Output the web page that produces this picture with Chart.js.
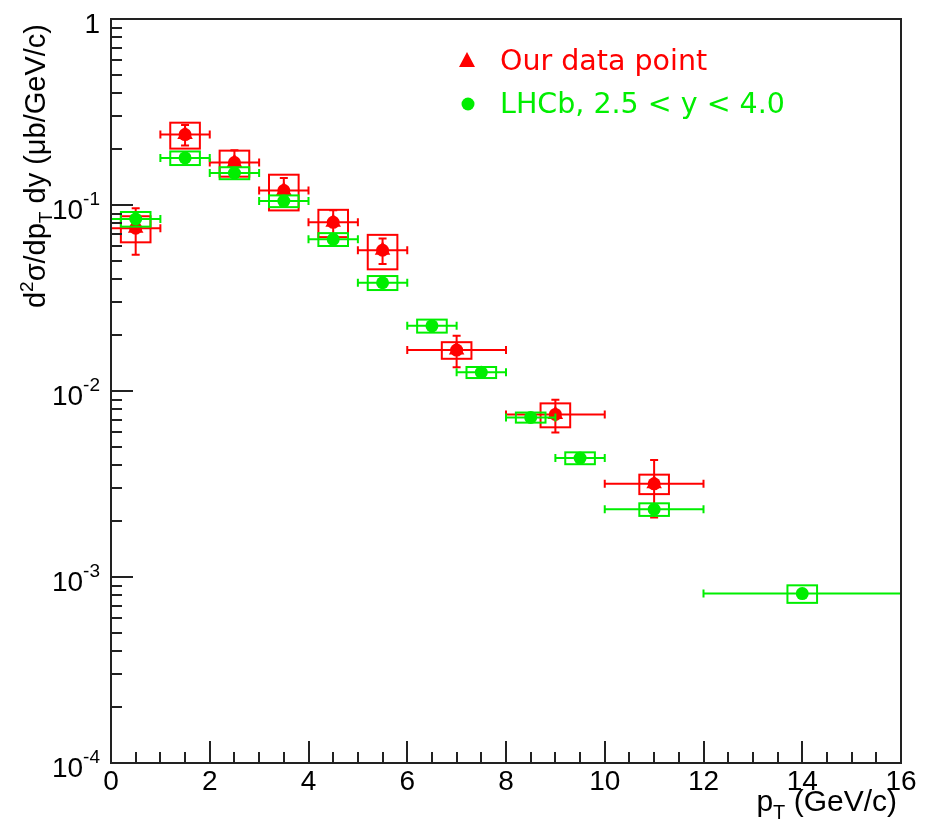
<!DOCTYPE html>
<html>
<head>
<meta charset="utf-8">
<script src="https://cdn.jsdelivr.net/npm/chart.js@4.4.1/dist/chart.umd.min.js"></script>
<style>
  html, body { margin: 0; padding: 0; background: #fff; }
  #wrap { width: 933px; height: 831px; }
</style>
</head>
<body>
<div id="wrap"><canvas id="xsec" width="933" height="831"></canvas></div>
<script>
// our measurement
const ourPt   = [0.5, 1.5, 2.5, 3.5, 4.5, 5.5, 7, 9, 11];
const ourXErr = [0.5, 0.5, 0.5, 0.5, 0.5, 0.5, 1, 1, 1];
const ourVal  = [0.0750, 0.239, 0.169, 0.1195, 0.0807, 0.0571, 0.0166, 0.00748, 0.00317];
const ourStat = [0.021, 0.030, 0.028, 0.020, 0.013, 0.009, 0.0032, 0.0015, 0.00108];
const ourSys  = [0.012, 0.038, 0.027, 0.026, 0.0135, 0.012, 0.0017, 0.0011, 0.00038];

// LHCb, 2.5 < y < 4.0
const lhcbPt   = [0.5, 1.5, 2.5, 3.5, 4.5, 5.5, 6.5, 7.5, 8.5, 9.5, 11, 14];
const lhcbXErr = [0.5, 0.5, 0.5, 0.5, 0.5, 0.5, 0.5, 0.5, 0.5, 0.5, 1, 2];
const lhcbVal  = [0.0841, 0.179, 0.1486, 0.105, 0.0654, 0.0382, 0.0224, 0.0126, 0.00721, 0.00436, 0.00231, 0.000814];
const lhcbStat = [0.003, 0.005, 0.004, 0.003, 0.002, 0.0012, 0.0007, 0.0004, 0.0002, 0.00012, 0.00008, 0.00003];
const lhcbSys  = [0.0076, 0.015, 0.011, 0.0076, 0.0052, 0.0033, 0.0018, 0.00086, 0.00045, 0.00032, 0.00018, 0.000088];

const boxHalfWidth = 0.3;
const xTicks = [0, 2, 4, 6, 8, 10, 12, 14, 16];
const xMinorStep = 0.5;
const yDecades = [0, -1, -2, -3, -4];

const RED = '#ff0000';
const GREEN = '#00ee00';
const AXIS = '#222222';
const LABEL_FONT = '"Liberation Sans", Arial, sans-serif';
const LEGEND_FONT = '"DejaVu Sans", Verdana, sans-serif';

function toPoints(xs, ys) {
  return xs.map((x, i) => ({ x, y: ys[i] }));
}

// draw a string made of parts (plain / sub / sup) along the baseline
function richWidth(ctx, parts) {
  let w = 0;
  parts.forEach(p => {
    ctx.font = p.size + 'px ' + LABEL_FONT;
    w += ctx.measureText(p.text).width;
  });
  return w;
}
function drawRich(ctx, parts, x, y) {
  parts.forEach(p => {
    ctx.font = p.size + 'px ' + LABEL_FONT;
    ctx.fillText(p.text, x, y + (p.dy || 0));
    x += ctx.measureText(p.text).width;
  });
}

const errorBars = {
  id: 'errorBars',
  beforeDatasetDraw(chart, args) {
    const ds = chart.data.datasets[args.index];
    if (!ds.errs) return;
    const { ctx } = chart;
    const x = chart.scales.x, y = chart.scales.y;
    const e = ds.errs;
    ctx.save();
    ctx.strokeStyle = ds.borderColor;
    ctx.lineWidth = 2;
    ds.data.forEach((p, i) => {
      const px = x.getPixelForValue(p.x);
      const py = y.getPixelForValue(p.y);
      // systematic box
      const bx0 = x.getPixelForValue(p.x - boxHalfWidth);
      const bx1 = x.getPixelForValue(p.x + boxHalfWidth);
      const by0 = y.getPixelForValue(p.y + e.sys[i]);
      const by1 = y.getPixelForValue(p.y - e.sys[i]);
      ctx.strokeRect(bx0, by0, bx1 - bx0, by1 - by0);
      // bin width and statistical error
      const ex0 = x.getPixelForValue(p.x - e.xerr[i]);
      const ex1 = x.getPixelForValue(p.x + e.xerr[i]);
      const ey0 = y.getPixelForValue(p.y + e.stat[i]);
      const ey1 = y.getPixelForValue(p.y - e.stat[i]);
      ctx.beginPath();
      ctx.moveTo(ex0, py); ctx.lineTo(ex1, py);
      ctx.moveTo(ex0, py - 4); ctx.lineTo(ex0, py + 4);
      ctx.moveTo(ex1, py - 4); ctx.lineTo(ex1, py + 4);
      ctx.moveTo(px, ey0); ctx.lineTo(px, ey1);
      ctx.moveTo(px - 4, ey0); ctx.lineTo(px + 4, ey0);
      ctx.moveTo(px - 4, ey1); ctx.lineTo(px + 4, ey1);
      ctx.stroke();
    });
    ctx.restore();
  }
};

const rootFrame = {
  id: 'rootFrame',
  afterDraw(chart) {
    const { ctx, chartArea: a } = chart;
    const x = chart.scales.x, y = chart.scales.y;
    ctx.save();
    ctx.strokeStyle = AXIS;
    ctx.fillStyle = '#000';
    ctx.lineWidth = 2;
    ctx.strokeRect(a.left, a.top, a.right - a.left, a.bottom - a.top);

    // x ticks (inside)
    ctx.beginPath();
    for (let v = xTicks[0]; v <= xTicks[xTicks.length - 1] + 1e-9; v += xMinorStep) {
      const px = Math.round(x.getPixelForValue(v));
      const major = xTicks.includes(v);
      ctx.moveTo(px, a.bottom);
      ctx.lineTo(px, a.bottom - (major ? 22 : 11));
    }
    // y ticks (inside)
    yDecades.forEach(d => {
      const py = Math.round(y.getPixelForValue(Math.pow(10, d)));
      ctx.moveTo(a.left, py); ctx.lineTo(a.left + 22, py);
      if (d < 0) {
        for (let k = 2; k <= 9; k++) {
          const pm = Math.round(y.getPixelForValue(k * Math.pow(10, d)));
          ctx.moveTo(a.left, pm); ctx.lineTo(a.left + 11, pm);
        }
      }
    });
    ctx.stroke();

    // x labels
    ctx.font = '28px ' + LABEL_FONT;
    ctx.textAlign = 'center';
    ctx.textBaseline = 'alphabetic';
    xTicks.forEach(v => {
      ctx.fillText(String(v), x.getPixelForValue(v), 790);
    });

    // y labels
    ctx.textAlign = 'left';
    yDecades.forEach(d => {
      const py = y.getPixelForValue(Math.pow(10, d));
      const parts = d === 0
        ? [{ text: '1', size: 28 }]
        : [{ text: '10', size: 28 }, { text: String(d), size: 19, dy: -14 }];
      const w = richWidth(ctx, parts);
      drawRich(ctx, parts, 100 - w, py + 14);
    });

    // x title
    const xt = [{ text: 'p', size: 30 }, { text: 'T', size: 20, dy: 8 }, { text: ' (GeV/c)', size: 30 }];
    drawRich(ctx, xt, 897 - richWidth(ctx, xt), 811);

    // y title (rotated)
    const yt = [
      { text: 'd', size: 29 }, { text: '2', size: 19, dy: -12 },
      { text: 'σ/dp', size: 29 }, { text: 'T', size: 19, dy: 7 },
      { text: ' dy (μb/GeV/c)', size: 29 }
    ];
    const yw = richWidth(ctx, yt);
    ctx.save();
    ctx.translate(45, 24 + yw);
    ctx.rotate(-Math.PI / 2);
    drawRich(ctx, yt, 0, 0);
    ctx.restore();

    // legend
    ctx.fillStyle = RED;
    ctx.beginPath();
    ctx.moveTo(467, 52); ctx.lineTo(475, 67); ctx.lineTo(459, 67); ctx.closePath();
    ctx.fill();
    ctx.font = '28.5px ' + LEGEND_FONT;
    ctx.fillText('Our data point', 500, 70);
    ctx.fillStyle = GREEN;
    ctx.beginPath();
    ctx.arc(468, 104, 6.5, 0, Math.PI * 2);
    ctx.fill();
    ctx.fillText('LHCb, 2.5 < y < 4.0', 500, 113);
    ctx.restore();
  }
};

new Chart(document.getElementById('xsec'), {
  type: 'scatter',
  data: {
    datasets: [
      {
        label: 'LHCb, 2.5 < y < 4.0',
        data: toPoints(lhcbPt, lhcbVal),
        errs: { xerr: lhcbXErr, stat: lhcbStat, sys: lhcbSys },
        borderColor: GREEN,
        backgroundColor: GREEN,
        pointStyle: 'circle',
        pointRadius: 6.5,
        pointBorderWidth: 0
      },
      {
        label: 'Our data point',
        data: toPoints(ourPt, ourVal),
        errs: { xerr: ourXErr, stat: ourStat, sys: ourSys },
        borderColor: RED,
        backgroundColor: RED,
        pointStyle: 'triangle',
        pointRadius: 9,
        pointBorderWidth: 0
      },
      {
        label: 'Our data point (marker)',
        data: toPoints(ourPt, ourVal),
        borderColor: RED,
        backgroundColor: RED,
        pointStyle: 'circle',
        pointRadius: 6.5,
        pointBorderWidth: 0
      }
    ]
  },
  options: {
    responsive: false,
    animation: false,
    layout: { padding: { left: 111, top: 19, right: 32, bottom: 68 } },
    plugins: { legend: { display: false }, tooltip: { enabled: false } },
    scales: {
      x: { type: 'linear', min: 0, max: 16, display: false },
      y: { type: 'logarithmic', min: 1e-4, max: 1, display: false }
    }
  },
  plugins: [errorBars, rootFrame]
});
</script>
</body>
</html>
